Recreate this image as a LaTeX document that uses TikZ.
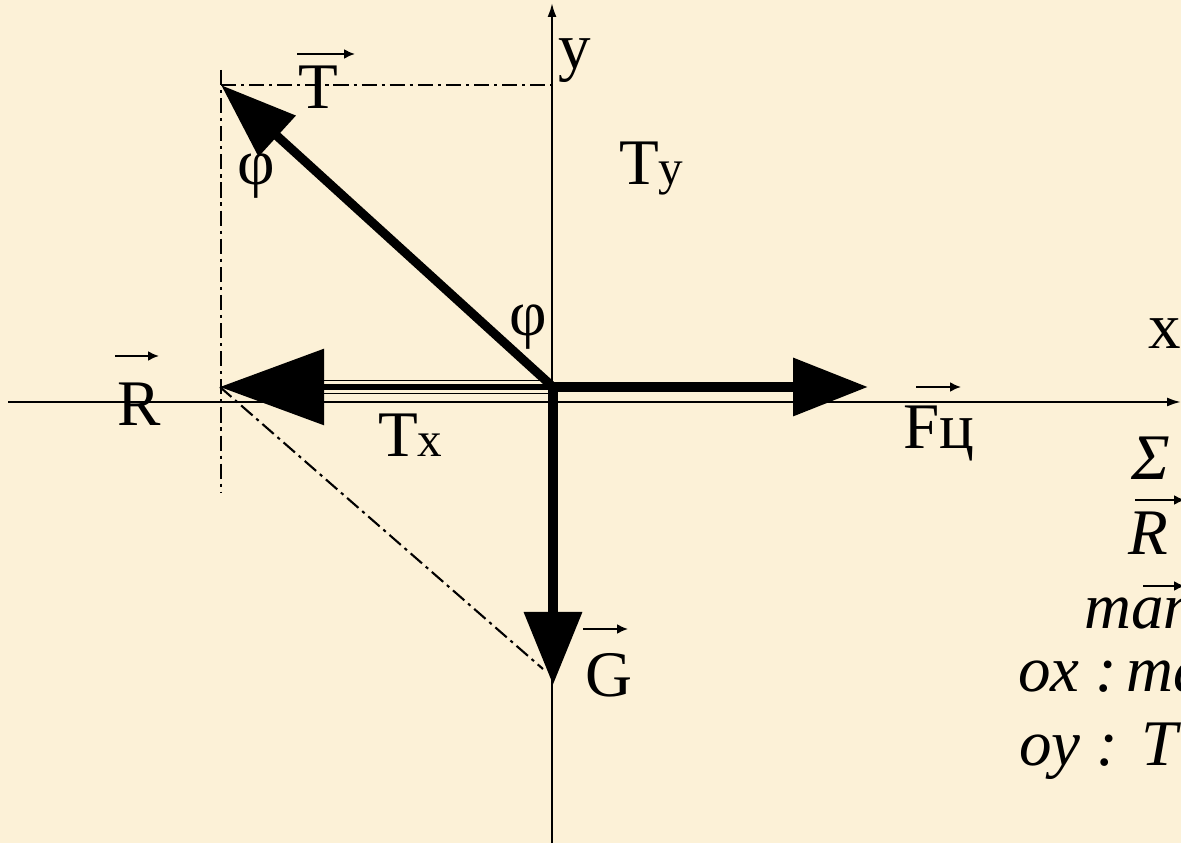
\documentclass[tikz,border=0pt]{standalone}
\usepackage{fontspec}
\setmainfont{Liberation Serif}
\usetikzlibrary{arrows.meta}
\definecolor{bgcream}{RGB}{252,241,215}

\begin{document}
\begin{tikzpicture}[line width=0.6pt,
  axis/.style={line width=0.6pt, -{Latex[length=0.14cm,width=0.09cm]}},
  chainline/.style={line width=0.6pt, dash pattern=on 4.3pt off 1.4pt on 0.9pt off 1.4pt},
  force/.style={line width=0.1cm},
  vecbar/.style={line width=0.6pt, -{Latex[length=0.11cm,width=0.1cm]}},
  lbl/.style={font=\fontsize{18.5}{20}\selectfont, inner sep=0pt},
  eqn/.style={font=\fontsize{18.5}{20}\selectfont\itshape, inner sep=0pt, anchor=base west}]
  \useasboundingbox (0,0) rectangle (11.81,8.43);
  \fill[bgcream] (0,0) rectangle (11.81,8.43);
  \clip (0,0) rectangle (11.81,8.43);
  \coordinate (O) at (5.53,4.56);
  \coordinate (Ttip) at (2.21,7.58);
  \coordinate (Rtip) at (2.20,4.56);
  \coordinate (Rbase) at (3.24,4.56);
  \coordinate (Ftip) at (8.68,4.56);
  \coordinate (Gtip) at (5.53,1.58);
  \coordinate (Tfoot) at (5.52,7.58);
  \coordinate (Ttop) at (2.21,7.73);
  \coordinate (Tbot) at (2.21,3.50);
  \coordinate (Gnear) at (5.43,1.74);
  \coordinate (xstart) at (0.08,4.41);
  \coordinate (xend) at (11.81,4.41);
  \coordinate (ystart) at (5.52,0.00);
  \coordinate (yend) at (5.52,8.40);
  \draw[axis] (xstart) -- (xend);
  \draw[axis] (ystart) -- (yend);
  \draw[chainline] (Ttip) -- (Tfoot);
  \draw[chainline] (Ttop) -- (Tbot);
  \draw[chainline] (Rtip) -- (Gnear);
  \draw[force, line width=0.09cm, -{Triangle[length=0.76cm,width=0.53cm]}] (O) -- (Ttip);
  \draw[force, -{Triangle[length=0.75cm,width=0.56cm]}] (O) -- (Ftip);
  \draw[force, -{Triangle[length=0.73cm,width=0.56cm]}] (O) -- (Gtip);
  \draw[force, line width=0.06cm, -{Triangle[length=1.04cm,width=0.75cm]}] (O) -- (Rtip);
  \draw[line width=0.5pt] ([yshift=0.065cm]Rbase) -- ([yshift=0.065cm]O);
  \draw[line width=0.5pt] ([yshift=-0.065cm]Rbase) -- ([yshift=-0.065cm]O);
  \node[lbl] (lblT) at (3.18,7.555) {T};
  \draw[vecbar] (2.97,7.89) -- (3.55,7.89);
  \node[lbl] (lblR) at (1.39,4.385) {R};
  \draw[vecbar] (1.15,4.87) -- (1.59,4.87);
  \node[lbl] (lblG) at (6.09,1.675) {G};
  \draw[vecbar] (5.83,2.14) -- (6.28,2.14);
  \node[lbl] (lblF) at (9.385,4.09) {Fц};
  \draw[vecbar] (9.16,4.56) -- (9.61,4.56);
  \node[lbl, anchor=base west] (lblTx) at (3.77,3.86) {T{\fontsize{14}{14}\selectfont x}};
  \node[lbl, anchor=base west] (lblTy) at (6.18,6.58) {T{\fontsize{14}{14}\selectfont y}};
  \node[lbl, anchor=base west] (lbly) at (5.57,7.74) {y};
  \node[lbl, anchor=base west] (lblx) at (11.47,4.94) {x};
  \node[lbl] (phiT) at (2.565,6.665) {φ};
  \node[lbl] (phiO) at (5.285,5.16) {φ};
  \node[eqn] (eqsum) at (11.30,3.63) {Σ};
  \node[eqn] (eqR) at (11.27,2.88) {R};
  \draw[vecbar] (11.35,3.43) -- (11.85,3.43);
  \node[eqn] (eqma) at (10.83,2.15) {man};
  \draw[vecbar] (11.43,2.57) -- (11.85,2.57);
  \node[eqn] (eqox) at (10.17,1.51) {ox :\hspace{0.14em}ma};
  \node[eqn] (eqoy) at (10.18,0.78) {oy :\hspace{0.35em}T};
\end{tikzpicture}
\end{document}
